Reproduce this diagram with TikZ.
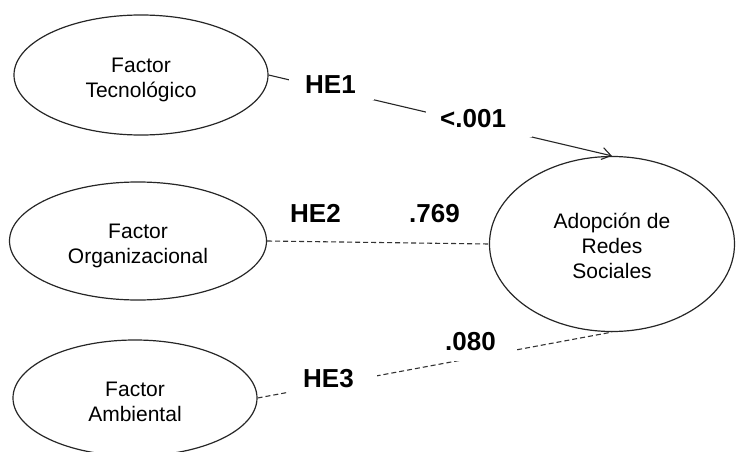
\documentclass[tikz,border=0pt]{standalone}
\usepackage{fontspec}
\setmainfont{Liberation Sans}
\usetikzlibrary{shapes.geometric,arrows.meta}
% invisible strut that lowers the first text line inside an ellipse
\newcommand\ftop[1]{\rule{0pt}{#1}}
\begin{document}
\begin{tikzpicture}[x=1pt,y=-1pt,
  factor/.style={draw=black!85, line width=1.2pt, ellipse, inner sep=0pt,
    align=center, font=\fontsize{21}{25}\selectfont},
  conn/.style={draw=black!85, line width=1.1pt},
  weak/.style={draw=black!80, line width=1.1pt, dash pattern=on 5pt off 3pt},
  lbl/.style={font=\bfseries\fontsize{26}{26}\selectfont, inner sep=0pt, anchor=base west},
  gap/.style={lbl, fill=white}]
\useasboundingbox (0,0) rectangle (736,452);

% constructs
\node[factor, minimum width=254pt, minimum height=120pt] (tec) at (141,75) {\ftop{24pt}Factor\\Tecnológico};
\node[factor, minimum width=257pt, minimum height=118pt] (org) at (138,241) {\ftop{24pt}Factor\\Organizacional};
\node[factor, minimum width=244pt, minimum height=116pt] (amb) at (135,398) {\ftop{23pt}Factor\\Ambiental};
\node[factor, minimum width=245pt, minimum height=175pt] (ars) at (612,244) {\ftop{20pt}Adopción de\\Redes\\Sociales};

% paths
\draw[conn, -{Straight Barb[length=9pt,width=12pt]}] (tec.east) -- (ars.north);
\draw[weak] (org.east) -- (ars.west);
\draw[weak] (amb.east) -- (ars.south);

% hypothesis labels and p-values
\node[gap, text height=25pt, text depth=7pt] (h1) at (289,93) {\hspace*{16pt}HE1\hspace*{18pt}};
\node[gap, text height=23pt, text depth=10pt] (p1) at (426,127) {\hspace*{14pt}<.001\hspace*{26pt}};
\node[lbl] (h2) at (290,222) {HE2};
\node[lbl] (p2) at (409,222) {.769};
\node[gap, text height=25pt, text depth=8pt] (h3) at (289,387) {\hspace*{14pt}HE3\hspace*{23pt}};
\node[gap, text height=22pt, text depth=11pt] (p3) at (443,350) {\hspace*{2pt}.080\hspace*{19.4pt}};
\end{tikzpicture}
\end{document}
